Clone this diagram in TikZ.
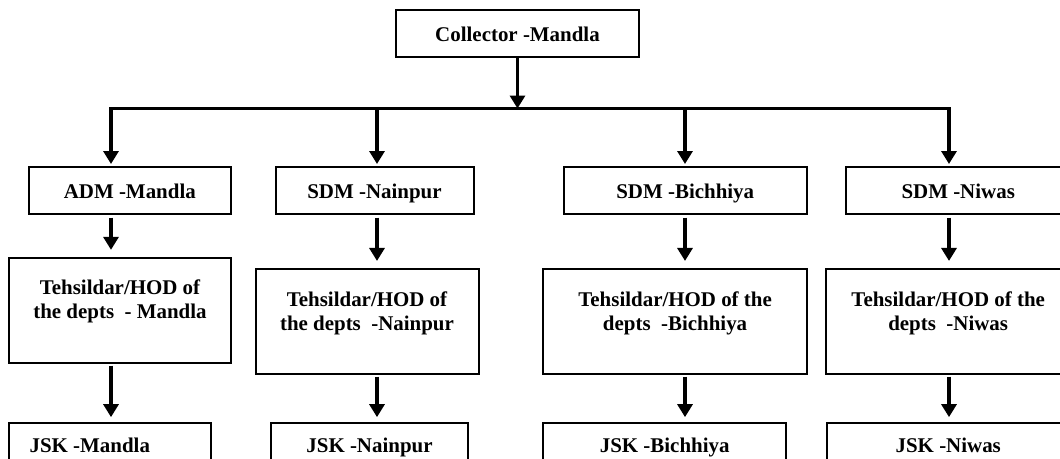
\documentclass[tikz,border=0pt]{standalone}
\usepackage{fontspec}
\setmainfont{Liberation Serif}
\usetikzlibrary{arrows.meta}

\tikzset{
  box/.style={draw, line width=1.5pt, inner sep=0pt},
  lbl/.style={font=\fontsize{15.7}{18}\selectfont\bfseries, align=center, inner sep=0pt},
  oneline/.style={text height=15pt, text depth=2.6pt},
  link/.style={line width=2.4pt, -{Triangle[length=9.75pt,width=11.25pt]}},
  bus/.style={line width=2.6pt, line cap=rect}
}

\begin{document}
\begin{tikzpicture}[x=0.75pt,y=-0.75pt]
  \useasboundingbox (0,0) rectangle (1060,458);
  % Top
  \node[box,lbl,oneline,minimum width=182.25pt,minimum height=35.5pt] (coll) at (517.5,33.3) {Collector -Mandla};
  % Second row
  \node[box,lbl,oneline,minimum width=151.8pt,minimum height=35.25pt] (adm) at (129.8,190.5) {ADM -Mandla};
  \node[box,lbl,oneline,minimum width=148.5pt,minimum height=35.25pt] (sdmN) at (374.5,190.5) {SDM -Nainpur};
  \node[box,lbl,oneline,minimum width=182.25pt,minimum height=35.25pt] (sdmB) at (685.25,190.5) {SDM -Bichhiya};
  \node[box,lbl,oneline,minimum width=167.7pt,minimum height=35.25pt] (sdmW) at (958.2,190.5) {SDM -Niwas};
  % Third row
  \node[box,minimum width=167.1pt,minimum height=78.75pt] (tehM) at (120,310) {};
  \node[box,minimum width=167.25pt,minimum height=78.75pt] (tehN) at (367,321.1) {};
  \node[box,minimum width=197.55pt,minimum height=78.75pt] (tehB) at (675.1,321.1) {};
  \node[box,minimum width=182.6pt,minimum height=78.75pt] (tehW) at (948.2,321.1) {};
  \node[lbl,anchor=north,yshift=-17.6pt] (tehMtxt) at (tehM.north) {Tehsildar/HOD of\\the depts~~- Mandla};
  \node[lbl,anchor=north,yshift=-17.6pt] (tehNtxt) at (tehN.north) {Tehsildar/HOD of\\the depts~~-Nainpur};
  \node[lbl,anchor=north,yshift=-17.6pt] (tehBtxt) at (tehB.north) {Tehsildar/HOD of the\\depts~~-Bichhiya};
  \node[lbl,anchor=north,yshift=-17.6pt] (tehWtxt) at (tehW.north) {Tehsildar/HOD of the\\depts~~-Niwas};
  % Bottom row
  \node[box,minimum width=151.8pt,minimum height=45pt] (jskM) at (109.8,452.8) {};
  \node[box,minimum width=147.75pt,minimum height=45pt] (jskN) at (369.5,452.8) {};
  \node[box,minimum width=182pt,minimum height=45pt] (jskB) at (664.7,452.8) {};
  \node[box,minimum width=182.6pt,minimum height=45pt] (jskW) at (948.25,452.8) {};
  \node[lbl,anchor=north,yshift=-12.2pt,xshift=-15pt] (jskMtxt) at (jskM.north) {JSK -Mandla};
  \node[lbl,anchor=north,yshift=-12.2pt] (jskNtxt) at (jskN.north) {JSK -Nainpur};
  \node[lbl,anchor=north,yshift=-12.2pt] (jskBtxt) at (jskB.north) {JSK -Bichhiya};
  \node[lbl,anchor=north,yshift=-12.2pt] (jskWtxt) at (jskW.north) {JSK -Niwas};
  % Bus
  \coordinate (cM) at (111,108.5);
  \coordinate (cN) at (377,108.5);
  \coordinate (cB) at (685,108.5);
  \coordinate (cW) at (949,108.5);
  \draw[bus] (cM) -- (cW);
  \draw[link] (coll.south) -- (coll.south |- cM);
  % Arrows
  \foreach \c/\s/\t/\j in {cM/adm/tehM/jskM, cN/sdmN/tehN/jskN, cB/sdmB/tehB/jskB, cW/sdmW/tehW/jskW} {
    \draw[link,shorten >=1.5pt] (\c) -- (\c |- \s.north);
    \draw[link,shorten <=2pt,shorten >=5pt] (\c |- \s.south) -- (\c |- \t.north);
    \draw[link,shorten <=1.5pt,shorten >=3.5pt] (\c |- \t.south) -- (\c |- \j.north);
  }
\end{tikzpicture}
\end{document}
